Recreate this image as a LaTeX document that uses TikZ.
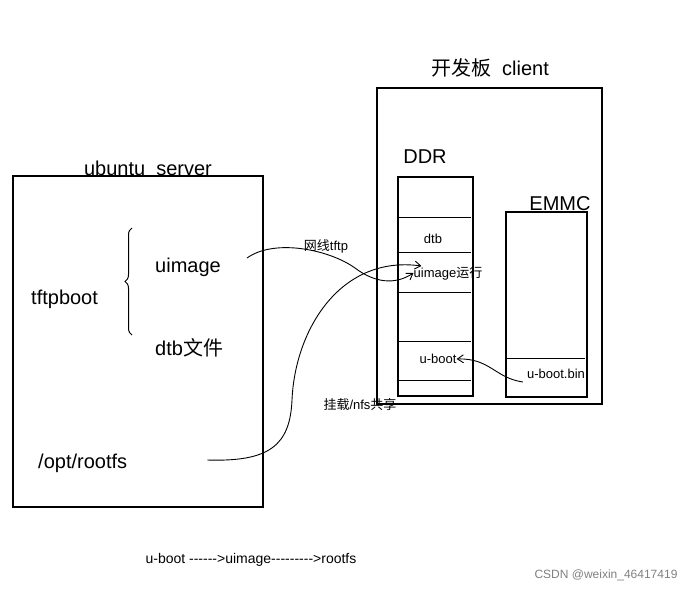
\documentclass[tikz,border=0pt]{standalone}
\usepackage{fontspec}
\setmainfont{Liberation Sans}
\newfontfamily\cjk{Noto Sans CJK SC}
\usetikzlibrary{arrows.meta}
\usetikzlibrary{decorations.pathreplacing}
\newcommand\dsh[1]{\foreach \i in {1,...,#1}{-\kern0pt}}
\begin{document}
\begin{tikzpicture} [
    x=1pt, y=-1pt,
    box/.style={draw, line width=1.2pt},
    sep/.style={draw, line width=0.9pt},
    big/.style={font=\fontsize{20}{24}\selectfont, inner sep=0pt},
    small/.style={font=\fontsize{13}{15}\selectfont, inner sep=0pt},
    f/.style={line width=0.9pt, -{Straight Barb[length=6pt,width=8pt]}}
]
\useasboundingbox (0,0) rectangle (699,592);

% server side
\draw [box] (13,176) rectangle (263,507);
\node [big] (srv) at (148,168) {ubuntu\ \ server};
\node [big, anchor=west] (tftp) at (31,299) {tftpboot};
\node [big, anchor=west] (uimg) at (155,267) {uimage};
\node [big, anchor=west] (dtbf) at (155,348) {dtb{\cjk 文件}};
\node [big, anchor=west] (rootfs) at (38,463) {/opt/rootfs};
\draw [line width=1pt, decorate, decoration={brace, amplitude=7pt, mirror}]
    (132,228) -- (132,335);

% client side
\draw [box] (377,88) rectangle (602,404);
\node [big] (cli) at (490,68) {{\cjk 开发板}\ \ client};
\node [big] (ddr) at (425,157) {DDR};
\draw [box] (398,177) rectangle (473,396);
\foreach \yy in {217,252,292,341,380}
    \draw [sep] (398,\yy) -- (471,\yy);
\node [small] (dtb) at (433,239) {dtb};
\node [small] (run) at (448,273) {uimage{\cjk 运行}};
\node [small] (ub) at (438,359) {u-boot};

\node [big] (emmc) at (560,204) {EMMC};
\draw [box] (506,212) rectangle (587,397);
\draw [sep] (505,358) -- (585,358);
\node [small] (ubin) at (556,374) {u-boot.bin};

% transfers
\node [small] (net) at (326,246) {{\cjk 网线}tftp};
\draw [f] (uimg.east) ++(26,-9) coordinate (a1)
    (a1) .. controls (275,238) and (330,250) .. (355,268)
    .. controls (375,283) and (395,285) .. (run.west);
\node [small] (nfs) at (360,405) {{\cjk 挂载}/nfs{\cjk 共享}};
\draw [f] (rootfs.east) ++(80,-3) coordinate (a2)
    (a2) .. controls (270,462) and (290,445) .. (292,400)
    .. controls (295,330) and (340,255) .. ([xshift=8pt]run.north west);
\draw [f] (ubin.west) ++(-4,8) coordinate (a3)
    (a3) .. controls (495,378) and (490,358) .. (ub.east);

\node [font=\fontsize{14}{16}\selectfont] (seq) at (251,560)
    {u-boot \dsh{6}>uimage\dsh{9}>rootfs};
\node [font=\fontsize{12}{14}\selectfont, text=gray] (mark) at (606,575)
    {CSDN @weixin\_46417419};
\end{tikzpicture}
\end{document}
